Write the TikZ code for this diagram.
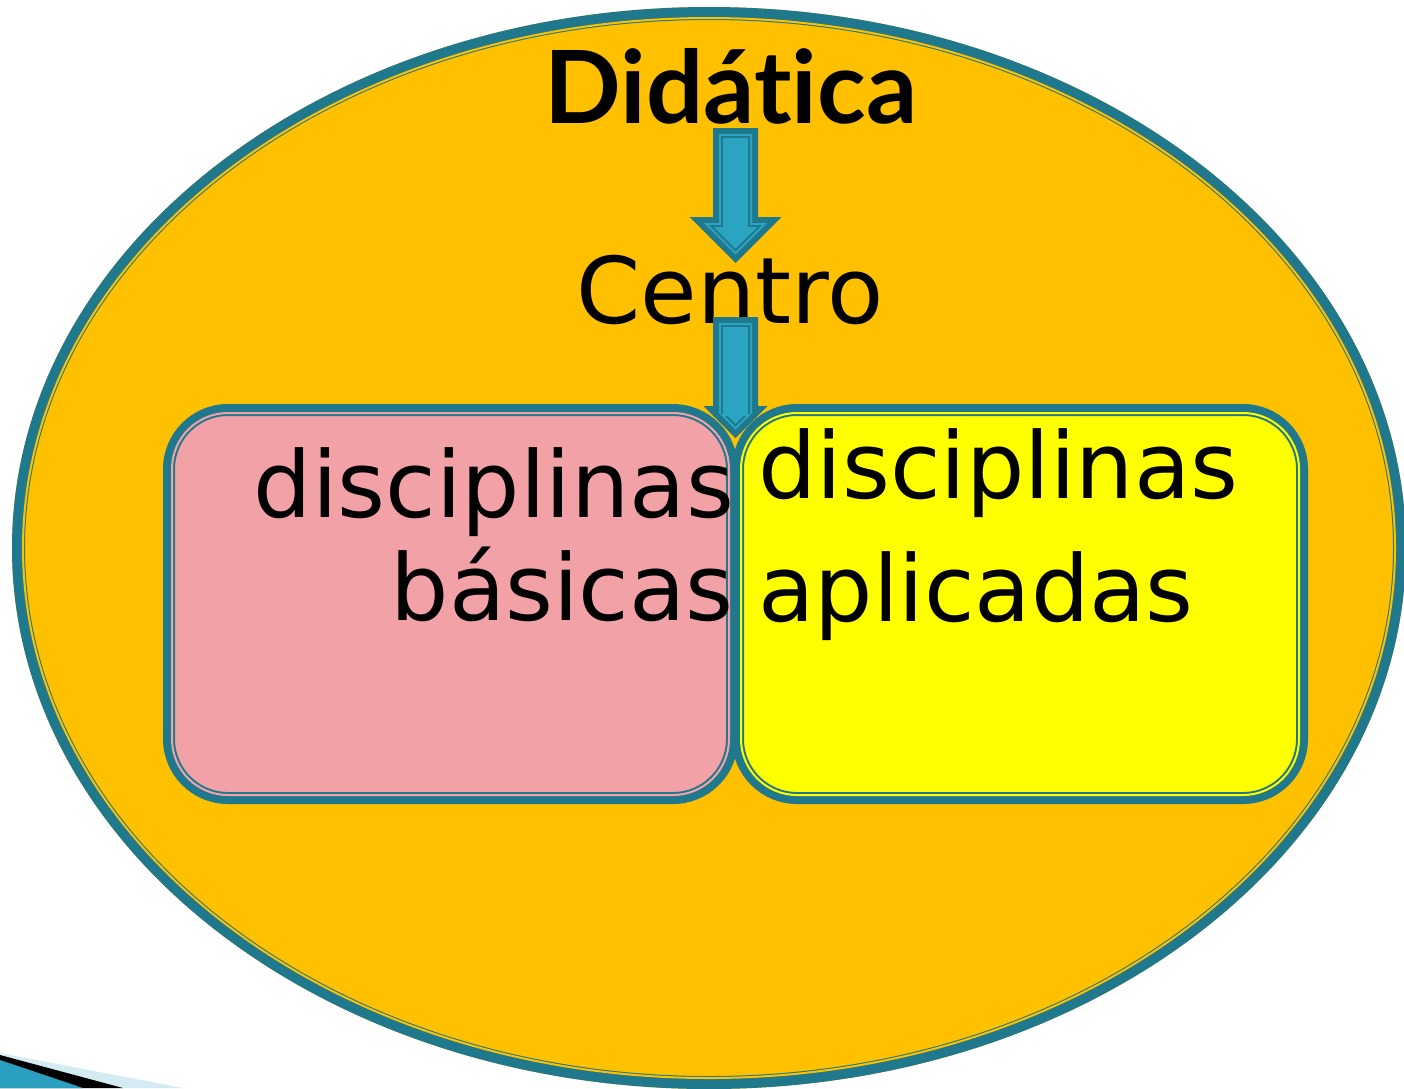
\documentclass[tikz,border=0pt]{standalone}
\usepackage{fontspec}
\setmainfont{DejaVu Sans}
\newfontfamily\titlefam[Ligatures=NoCommon]{Lato}
\definecolor{ellgold}{HTML}{FFC000}
\definecolor{tealb}{HTML}{1F788C}
\definecolor{arrlight}{HTML}{2BA4C2}
\definecolor{boxpink}{HTML}{F2A2A6}
\definecolor{boxyellow}{HTML}{FFFF00}
\definecolor{decolight}{HTML}{D5EBF3}
\definecolor{decoblue}{HTML}{2A9FC0}
% block arrow: #1 centre x, #2 top y, #3 head base y, #4 head half width, #5 shaft half width, #6 inset
\newcommand\arrowlayer[7]{%
  \fill[#7] ({#1-#5+#6},{#2+#6}) -- ({#1+#5-#6},{#2+#6}) -- ({#1+#5-#6},{#3+#6})
    -- ({#1+#4-2.414*#6},{#3+#6}) -- ({#1},{#3+#4-1.414*#6})
    -- ({#1-#4+2.414*#6},{#3+#6}) -- ({#1-#5+#6},{#3+#6}) -- cycle;}
\newcommand\blockarrow[5]{%
  \arrowlayer{#1}{#2}{#3}{#4}{#5}{0}{tealb}%
  \arrowlayer{#1}{#2}{#3}{#4}{#5}{6}{arrlight}%
  \arrowlayer{#1}{#2}{#3}{#4}{#5}{8}{tealb}%
  \arrowlayer{#1}{#2}{#3}{#4}{#5}{10}{arrlight}}
\tikzset{
  bigtext/.style={inner sep=0pt, font=\fontsize{92}{100}\selectfont},
  boxframe/.style={draw=tealb, line width=12pt, rounded corners=59pt},
}
\begin{document}
\begin{tikzpicture}[x=1pt,y=-1pt]
\useasboundingbox (0,0) rectangle (1404,1088);
\clip (0,0) rectangle (1404,1088);
\fill[white] (0,0) rectangle (1404,1088);
% outer ellipse
\fill[ellgold] (709,548) ellipse [x radius=697, y radius=541];
\draw[tealb, line width=13pt] (709,548) ellipse [x radius=690.5, y radius=534.5];
\draw[ellgold, line width=2pt] (709,548) ellipse [x radius=686, y radius=530];
% left box
\path[boxframe, fill=boxpink] (169,410) rectangle (732,798);
\draw[boxpink, line width=2pt, rounded corners=56pt] (172,413) rectangle (729,795);
% right box
\path[boxframe, fill=boxyellow] (738,410) rectangle (1302,798);
\draw[boxyellow, line width=2pt, rounded corners=56pt] (741,413) rectangle (1299,795);
% texts
\node[inner sep=0pt, anchor=base, font=\titlefam\bfseries\fontsize{101}{110}\selectfont] (didatica) at (731,123) {Didática};
\node[bigtext, anchor=base] (centro) at (730,323) {Centro};
\node[bigtext, anchor=base east] (basicas1) at (734,517) {disciplinas};
\node[bigtext, anchor=base east] (basicas2) at (734,620) {básicas};
\node[bigtext, anchor=base west] (aplic1) at (758,498) {disciplinas};
\node[bigtext, anchor=base west] (aplic2) at (758,621) {aplicadas};
% block arrows
\blockarrow{735.5}{128}{217}{46}{22.5}
\blockarrow{735.5}{317}{406}{32}{22.5}
% bottom-left decoration
\fill[decolight] (0,1053) -- (183,1088) -- (0,1088) -- cycle;
\fill[black] (0,1055) -- (123,1088) -- (0,1088) -- cycle;
\fill[decoblue] (0,1060) -- (83,1088) -- (0,1088) -- cycle;
\end{tikzpicture}
\end{document}
